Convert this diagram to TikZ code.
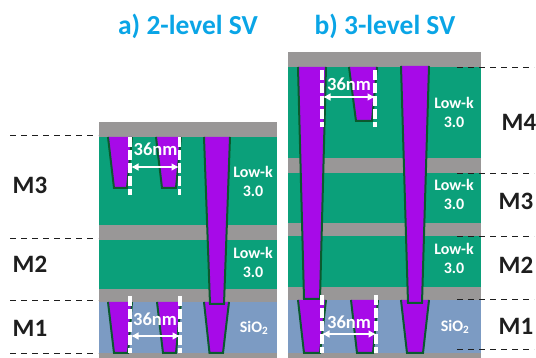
\documentclass[tikz,border=0pt]{standalone}
\usepackage{fontspec}
\setmainfont{Carlito}
\usetikzlibrary{arrows.meta}
\definecolor{lowk}{HTML}{0BA07A}
\definecolor{capg}{HTML}{999797}
\definecolor{oxide}{HTML}{7C9BC3}
\definecolor{metal}{HTML}{A70AE8}
\definecolor{liner}{HTML}{0B5A2E}
\definecolor{titlec}{HTML}{0AA5E6}
\definecolor{lab}{HTML}{1E1E1E}
\tikzset{
  x=1pt,y=-1pt,
  via/.style={fill=metal},
  viaedge/.style={draw=liner,line width=2pt,line join=miter},
  guide/.style={draw=white,line width=3.6pt,dash pattern=on 10pt off 3pt},
  levelline/.style={draw=lab,line width=1pt,dash pattern=on 6pt off 5pt},
  span/.style={draw=white,line width=1.8pt,{Latex[length=7.5pt,width=8pt]}-{Latex[length=7.5pt,width=8pt]}},
  wtxt/.style={text=white,font=\fontsize{16}{17}\selectfont\bfseries,inner sep=0pt,align=center},
  dimtxt/.style={text=white,font=\fontsize{18.5}{19}\selectfont\bfseries,inner sep=0pt},
  mtxt/.style={text=lab,font=\fontsize{25}{26}\selectfont\bfseries,inner sep=0pt},
  ttl/.style={text=titlec,font=\fontsize{27.5}{29}\selectfont\bfseries,inner sep=0pt},
}
\newcommand{\tvia}[7]{% xtl xtr yt xbl xbr yb
  \fill[via] (#1,#3) -- (#2,#3) -- (#5,#6) -- (#4,#6) -- cycle;
  \draw[viaedge] (#1,#3) -- (#4,#6) -- (#5,#6) -- (#2,#3);
}
\begin{document}
\begin{tikzpicture}
\useasboundingbox (0,0) rectangle (536,358);
% left stack
\fill[capg] (98.5,122) rectangle (277,358);
\fill[lowk] (98.5,137) rectangle (277,225);
\fill[lowk] (98.5,240.5) rectangle (277,289);
\fill[oxide] (98.5,302) rectangle (277,353);
\tvia{108}{132}{137}{114}{127}{188}{}
\tvia{156}{181}{137}{162}{176}{188}{}
\tvia{108}{132}{302}{114}{128}{353}{}
\tvia{157}{181}{302}{163}{176}{353}{}
\tvia{204}{229}{302}{209.5}{223}{353}{}
\tvia{204}{230}{137}{210}{224}{304}{}
% right stack
\fill[capg] (288,52) rectangle (481,358);
\fill[lowk] (288,67) rectangle (481,158);
\fill[lowk] (288,173.5) rectangle (481,223);
\fill[lowk] (288,236) rectangle (481,287);
\fill[oxide] (288,300) rectangle (481,353);
\tvia{298}{326}{300}{304}{320}{353}{}
\tvia{351}{378}{300}{357}{373}{353}{}
\tvia{401}{429}{300}{407}{423}{353}{}
\tvia{349}{377}{67}{356}{372}{121}{}
\tvia{298}{326}{67}{304}{320}{299}{}
\tvia{401}{429}{66}{408}{422}{303}{}
% guides
\draw[guide] (130,137) -- (130,195);
\draw[guide] (179.5,137) -- (179.5,195);
\draw[guide] (130,296) -- (130,353);
\draw[guide] (180,296) -- (180,353);
\draw[guide] (322,70) -- (322,127);
\draw[guide] (375,70) -- (375,127);
\draw[guide] (322,295) -- (322,353);
\draw[guide] (376,295) -- (376,353);
% dimension arrows
\coordinate (a1l) at (131,167); \coordinate (a1r) at (179,167);
\coordinate (a2l) at (131,336); \coordinate (a2r) at (180,336);
\coordinate (b1l) at (323,97);  \coordinate (b1r) at (375,97);
\coordinate (b2l) at (322,334); \coordinate (b2r) at (376,334);
\draw[span] (a1l) -- (a1r);
\draw[span] (a2l) -- (a2r);
\draw[span] (b1l) -- (b1r);
\draw[span] (b2l) -- (b2r);
\node[dimtxt] (d1) at (155.5,149) {36nm};
\node[dimtxt] (d2) at (155,319) {36nm};
\node[dimtxt] (d3) at (349,84) {36nm};
\node[dimtxt] (d4) at (349,322) {36nm};
% material labels
\node[wtxt] (ml1) at (253,181) {Low-k\\[2pt]3.0};
\node[wtxt] (ml2) at (253,262) {Low-k\\[2pt]3.0};
\node[wtxt] (ml3) at (454,112) {Low-k\\[2pt]3.0};
\node[wtxt] (ml4) at (454,194) {Low-k\\[2pt]3.0};
\node[wtxt] (ml5) at (454,258.5) {Low-k\\[2pt]3.0};
\node[wtxt] (s1) at (254,328) {SiO\textsubscript{2}};
\node[wtxt] (s2) at (455,327) {SiO\textsubscript{2}};
% level lines
\draw[levelline] (10,136) -- (98,136);
\draw[levelline] (10,239) -- (98,239);
\draw[levelline] (10,301) -- (98,301);
\draw[levelline] (10,354) -- (98,354);
\draw[levelline] (457,68) -- (534,68);
\draw[levelline] (457,174) -- (534,174);
\draw[levelline] (457,237) -- (534,237);
\draw[levelline] (457,300) -- (534,300);
\draw[levelline] (457,350) -- (534,350);
% level labels
\node[mtxt] (l3) at (30,185) {M3};
\node[mtxt] (l2) at (30,264) {M2};
\node[mtxt] (l1) at (30,328) {M1};
\node[mtxt] (r4) at (519,122) {M4};
\node[mtxt] (r3) at (516,201) {M3};
\node[mtxt] (r2) at (516,265) {M2};
\node[mtxt] (r1) at (516,326) {M1};
% titles
\node[ttl] (ta) at (188,26) {a) 2-level SV};
\node[ttl] (tb) at (385,26) {b) 3-level SV};
\end{tikzpicture}
\end{document}
